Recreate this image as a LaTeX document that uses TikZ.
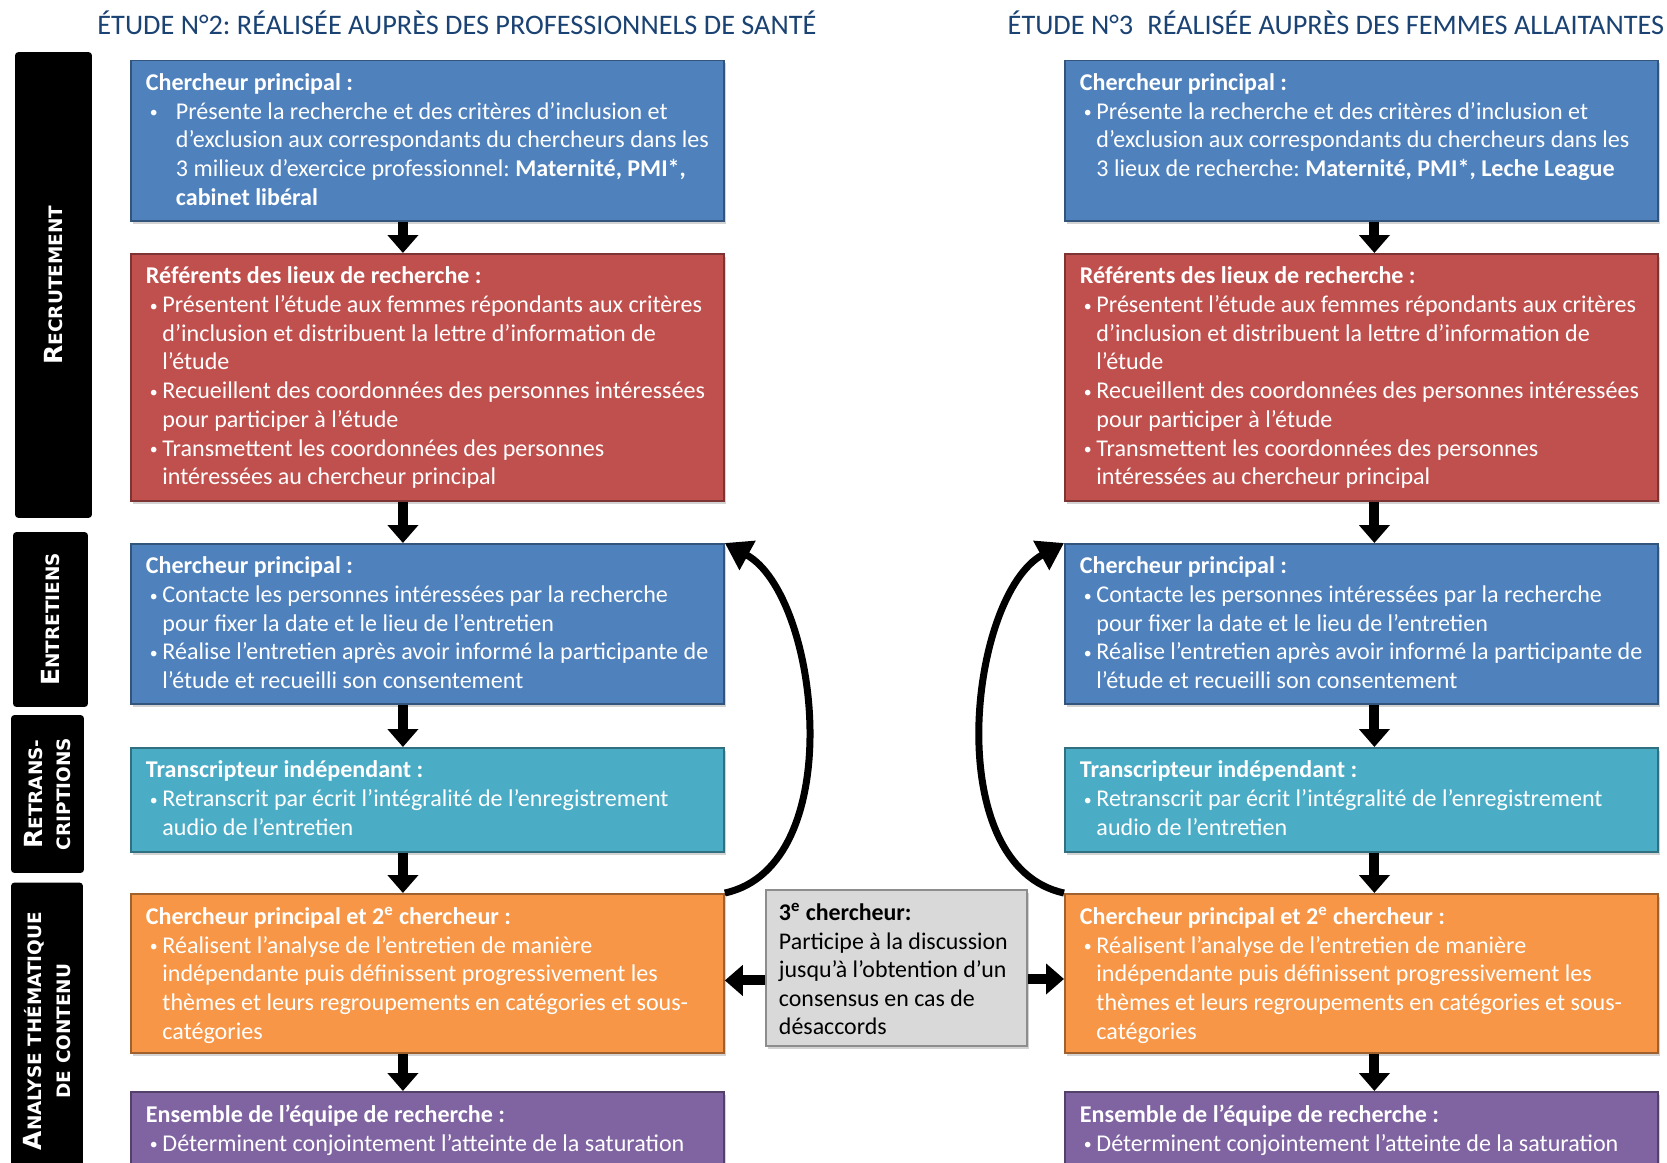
\documentclass[tikz,border=0pt]{standalone}
\usepackage{fontspec}
\setmainfont{Carlito}
\newfontfamily\phasefont{DejaVu Sans}
\usetikzlibrary{arrows.meta,shadows}
\frenchspacing

\definecolor{bleuF}{HTML}{4F81BD}
\definecolor{rougeF}{HTML}{C0504D}
\definecolor{turqF}{HTML}{4BACC6}
\definecolor{orangeF}{HTML}{F79646}
\definecolor{violetF}{HTML}{8064A2}
\definecolor{grisF}{HTML}{D9D9D9}
\definecolor{titreF}{HTML}{1A4273}

\newcommand{\cadre}[2]{\parbox[c][#1][t]{11.26cm}{\rightskip=-0.6cm plus 1fil\fontsize{13.7}{16.33}\selectfont #2}}
\newcommand{\puce}[2][0.33cm]{\par\hangindent=#1\hangafter=1\noindent\makebox[#1][l]{\hspace{0.08cm}{\fontsize{9}{9}\selectfont\raisebox{0.8pt}{•}}}#2}
\newcommand{\petitcap}[2]{{\fontsize{14.2}{16.4}\selectfont #1}#2}

\tikzset{
  etape/.style={draw=#1!65!black, fill=#1, line width=1.1pt, text=white,
    anchor=north west, inner xsep=0.3cm, inner ysep=0.26cm,
    drop shadow={shadow xshift=0.05cm,shadow yshift=-0.06cm,opacity=0.35}},
  phase/.style={fill=black, text=white, rotate=90, rounded corners=2pt,
    align=center, inner sep=0pt,
    font=\phasefont\bfseries\fontsize{10.5}{16.4}\selectfont},
  titre/.style={text=titreF, font=\fontsize{16.1}{18}\selectfont},
  fleche/.style={line width=0.2cm, -{Triangle[length=0.36cm,width=0.6cm]}},
  retour/.style={line width=0.14cm, -{Triangle[length=0.52cm,width=0.64cm]}}
}

\begin{document}
\begin{tikzpicture}[x=0.02cm,y=-0.02cm]
\useasboundingbox (0,0) rectangle (1667,1163);
\clip (0,0) rectangle (1667,1163);

\node[titre] (t2) at (457,23) {ÉTUDE N°2: RÉALISÉE AUPRÈS DES PROFESSIONNELS DE SANTÉ};
\node[titre] (t3) at (1336,23) {ÉTUDE N°3\enspace RÉALISÉE AUPRÈS DES FEMMES ALLAITANTES};

\node[phase, minimum width=9.32cm, minimum height=1.54cm] (p1) at (53.5,285) {\petitcap{R}{ECRUTEMENT}};
\node[phase, minimum width=3.5cm, minimum height=1.5cm] (p2) at (50.5,619.5) {\petitcap{E}{NTRETIENS}};
\node[phase, minimum width=3.16cm, minimum height=1.46cm] (p3) at (47.5,794) {\petitcap{R}{ETRANS-}\\CRIPTIONS};
\node[phase, minimum width=5.94cm, minimum height=1.44cm] (p4) at (47,1031) {\petitcap{A}{NALYSE THÉMATIQUE}\\DE CONTENU};

% etude 2
\node[etape=bleuF] (g1) at (130,59.5) {\cadre{2.69cm}{\textbf{Chercheur principal :}
  \puce[0.6cm]{Présente la recherche et des critères d’inclusion et\newline
  d’exclusion aux correspondants du chercheurs dans les\newline
  3 milieux d’exercice professionnel: \textbf{Maternité, PMI*,}\newline
  \textbf{cabinet libéral}}}};
\node[etape=rougeF] (g2) at (130,253) {\cadre{4.42cm}{\textbf{Référents des lieux de recherche :}
  \puce{Présentent l’étude aux femmes répondants aux critères\newline
  d’inclusion et distribuent la lettre d’information de\newline l’étude}
  \puce{Recueillent des coordonnées des personnes intéressées\newline pour participer à l’étude}
  \puce{Transmettent les coordonnées des personnes\newline intéressées au chercheur principal}}};
\node[etape=bleuF] (g3) at (130,543) {\cadre{2.68cm}{\textbf{Chercheur principal :}
  \puce{Contacte les personnes intéressées par la recherche\newline pour fixer la date et le lieu de l’entretien}
  \puce{Réalise l’entretien après avoir informé la participante de\newline l’étude et recueilli son consentement}}};
\node[etape=turqF] (g4) at (130,747) {\cadre{1.56cm}{\textbf{Transcripteur indépendant :}
  \puce{Retranscrit par écrit l’intégralité de l’enregistrement\newline audio de l’entretien}}};
\node[etape=orangeF] (g5) at (130,893) {\cadre{2.66cm}{\textbf{Chercheur principal et 2\textsuperscript{e} chercheur :}
  \puce{Réalisent l’analyse de l’entretien de manière\newline
  indépendante puis définissent progressivement les\newline
  thèmes et leurs regroupements en catégories et sous-\newline catégories}}};
\node[etape=violetF] (g6) at (130,1091) {\cadre{1.68cm}{\textbf{Ensemble de l’équipe de recherche :}
  \puce{Déterminent conjointement l’atteinte de la saturation}}};

% etude 3
\node[etape=bleuF] (d1) at (1064,59.5) {\cadre{2.69cm}{\textbf{Chercheur principal :}
  \puce{Présente la recherche et des critères d’inclusion et\newline
  d’exclusion aux correspondants du chercheurs dans les\newline
  3 lieux de recherche: \textbf{Maternité, PMI*, Leche League}}}};
\node[etape=rougeF] (d2) at (1064,253) {\cadre{4.42cm}{\textbf{Référents des lieux de recherche :}
  \puce{Présentent l’étude aux femmes répondants aux critères\newline
  d’inclusion et distribuent la lettre d’information de\newline l’étude}
  \puce{Recueillent des coordonnées des personnes intéressées\newline pour participer à l’étude}
  \puce{Transmettent les coordonnées des personnes\newline intéressées au chercheur principal}}};
\node[etape=bleuF] (d3) at (1064,543) {\cadre{2.68cm}{\textbf{Chercheur principal :}
  \puce{Contacte les personnes intéressées par la recherche\newline pour fixer la date et le lieu de l’entretien}
  \puce{Réalise l’entretien après avoir informé la participante de\newline l’étude et recueilli son consentement}}};
\node[etape=turqF] (d4) at (1064,747) {\cadre{1.56cm}{\textbf{Transcripteur indépendant :}
  \puce{Retranscrit par écrit l’intégralité de l’enregistrement\newline audio de l’entretien}}};
\node[etape=orangeF] (d5) at (1064,893) {\cadre{2.66cm}{\textbf{Chercheur principal et 2\textsuperscript{e} chercheur :}
  \puce{Réalisent l’analyse de l’entretien de manière\newline
  indépendante puis définissent progressivement les\newline
  thèmes et leurs regroupements en catégories et sous-\newline catégories}}};
\node[etape=violetF] (d6) at (1064,1091) {\cadre{1.68cm}{\textbf{Ensemble de l’équipe de recherche :}
  \puce{Déterminent conjointement l’atteinte de la saturation}}};

\node[etape=grisF, text=black, inner sep=0.26cm] (gris) at (765,889) {\parbox[c][2.6cm][t]{4.7cm}{\fontsize{13.6}{16.3}\selectfont
  \textbf{3\textsuperscript{e} chercheur:}\\ Participe à la discussion\\ jusqu’à l’obtention d’un\\ consensus en cas de\\ désaccords}};

\foreach \a/\b in {1/2,2/3,3/4,4/5,5/6}{
  \draw[fleche] ([xshift=-0.49cm]g\a.south) -- ([xshift=-0.49cm]g\b.north);
  \draw[fleche] ([xshift=0.26cm]d\a.south) -- ([xshift=0.26cm]d\b.north);
}
\draw[fleche] ([yshift=-0.25cm]gris.west) -- ([yshift=-0.25cm]gris.west -| g5.east);
\draw[fleche] ([yshift=-0.22cm]gris.east) -- ([yshift=-0.22cm]gris.east -| d5.west);

\draw[retour] (g5.north east) .. controls +(125,-27) and +(95,52) .. (g3.north east);
\draw[retour] (d5.north west) .. controls +(-125,-27) and +(-95,52) .. (d3.north west);
\end{tikzpicture}
\end{document}
